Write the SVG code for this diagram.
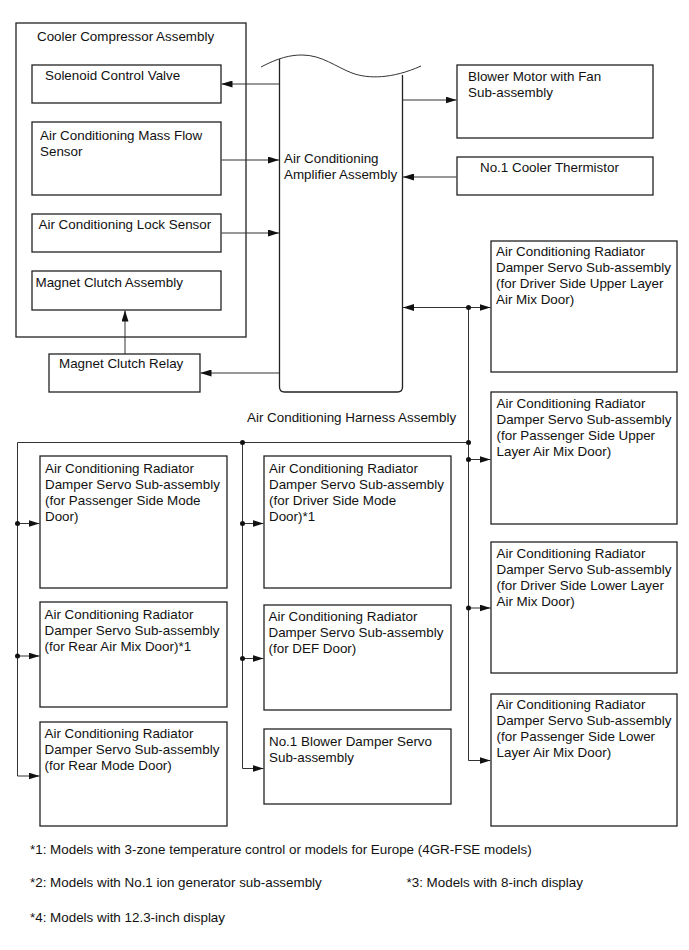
<svg xmlns="http://www.w3.org/2000/svg" width="689" height="950" viewBox="0 0 689 950">
<style>
  text { font-family: "Liberation Sans", Arial, sans-serif; font-size: 13.4px; fill: #111; }
  .box { fill: none; stroke: #222; stroke-width: 1.3; }
  .ln { fill: none; stroke: #333; stroke-width: 1; }
  .arr { fill: none; stroke: #333; stroke-width: 1; marker-end: url(#ah); }
  .dot { fill: #111; }
</style>
<defs>
  <marker id="ah" viewBox="0 0 11 7" refX="11" refY="3.5" markerWidth="11" markerHeight="7" markerUnits="userSpaceOnUse" orient="auto-start-reverse">
    <path d="M0,0 L11,3.5 L0,7 z" fill="#111"/>
  </marker>
</defs>
<rect width="689" height="950" fill="#fff"/>

<g id="cooler-compressor">
  <rect class="box" x="16" y="23" width="230" height="314"/>
  <text x="37" y="41">Cooler Compressor Assembly</text>
</g>
<g id="solenoid">
  <rect class="box" x="32" y="65" width="189" height="38"/>
  <text x="45" y="80">Solenoid Control Valve</text>
</g>
<g id="mass-flow">
  <rect class="box" x="32" y="122" width="189" height="73"/>
  <text x="40" y="139.5">Air Conditioning Mass Flow</text>
  <text x="40" y="155.5">Sensor</text>
</g>
<g id="lock-sensor">
  <rect class="box" x="32" y="214" width="189" height="38"/>
  <text x="38.5" y="229">Air Conditioning Lock Sensor</text>
</g>
<g id="magnet-clutch">
  <rect class="box" x="32" y="271" width="189" height="39"/>
  <text x="35.5" y="286.5">Magnet Clutch Assembly</text>
</g>
<g id="relay">
  <rect class="box" x="49" y="354" width="151" height="38"/>
  <text x="59" y="368">Magnet Clutch Relay</text>
</g>
<g id="amplifier">
  <path class="box" d="M279.5,59 L279.5,387 Q279.5,392 284.5,392 L397.5,392 Q402.5,392 402.5,387 L402.5,75"/>
  <path class="ln" d="M261,67 C278,58 290,55 302,55 C322,55 336,67 352,73 C368,79 392,79 421,66"/>
  <text x="284" y="162.5">Air Conditioning</text>
  <text x="284" y="178.5">Amplifier Assembly</text>
</g>
<g id="blower-motor">
  <rect class="box" x="457" y="65" width="196" height="73"/>
  <text x="468" y="81">Blower Motor with Fan</text>
  <text x="468" y="97">Sub-assembly</text>
</g>
<g id="thermistor">
  <rect class="box" x="457" y="157" width="196" height="38"/>
  <text x="480" y="172">No.1 Cooler Thermistor</text>
</g>
<g id="servo-driver-upper">
  <rect class="box" x="491" y="241" width="186" height="131"/>
  <text x="496" y="255.5">Air Conditioning Radiator</text>
  <text x="496" y="271.5">Damper Servo Sub-assembly</text>
  <text x="496" y="287.5">(for Driver Side Upper Layer</text>
  <text x="496" y="303.5">Air Mix Door)</text>
</g>
<g id="servo-passenger-upper">
  <rect class="box" x="491" y="392" width="186" height="132"/>
  <text x="496.5" y="408">Air Conditioning Radiator</text>
  <text x="496.5" y="424">Damper Servo Sub-assembly</text>
  <text x="496.5" y="440">(for Passenger Side Upper</text>
  <text x="496.5" y="456">Layer Air Mix Door)</text>
</g>
<g id="servo-driver-lower">
  <rect class="box" x="491" y="542" width="186" height="131"/>
  <text x="496.5" y="557.5">Air Conditioning Radiator</text>
  <text x="496.5" y="573.5">Damper Servo Sub-assembly</text>
  <text x="496.5" y="589.5">(for Driver Side Lower Layer</text>
  <text x="496.5" y="605.5">Air Mix Door)</text>
</g>
<g id="servo-passenger-lower">
  <rect class="box" x="491" y="694" width="186" height="132"/>
  <text x="496.5" y="709">Air Conditioning Radiator</text>
  <text x="496.5" y="725">Damper Servo Sub-assembly</text>
  <text x="496.5" y="741">(for Passenger Side Lower</text>
  <text x="496.5" y="757">Layer Air Mix Door)</text>
</g>
<g id="harness-label">
  <text x="247" y="421.5">Air Conditioning Harness Assembly</text>
</g>
<g id="servo-passenger-mode">
  <rect class="box" x="40" y="456" width="187" height="132"/>
  <text x="45" y="472.5">Air Conditioning Radiator</text>
  <text x="45" y="488.5">Damper Servo Sub-assembly</text>
  <text x="45" y="504.5">(for Passenger Side Mode</text>
  <text x="45" y="520.5">Door)</text>
</g>
<g id="servo-rear-airmix">
  <rect class="box" x="40" y="602" width="187" height="105"/>
  <text x="44.5" y="619">Air Conditioning Radiator</text>
  <text x="44.5" y="635">Damper Servo Sub-assembly</text>
  <text x="44.5" y="651">(for Rear Air Mix Door)*1</text>
</g>
<g id="servo-rear-mode">
  <rect class="box" x="40" y="722" width="187" height="104"/>
  <text x="44.5" y="737.5">Air Conditioning Radiator</text>
  <text x="44.5" y="753.5">Damper Servo Sub-assembly</text>
  <text x="44.5" y="769.5">(for Rear Mode Door)</text>
</g>
<g id="servo-driver-mode">
  <rect class="box" x="264" y="456" width="187" height="132"/>
  <text x="269" y="472.5">Air Conditioning Radiator</text>
  <text x="269" y="488.5">Damper Servo Sub-assembly</text>
  <text x="269" y="504.5">(for Driver Side Mode</text>
  <text x="269" y="520.5">Door)*1</text>
</g>
<g id="servo-def">
  <rect class="box" x="264" y="605" width="187" height="105"/>
  <text x="268.5" y="620.5">Air Conditioning Radiator</text>
  <text x="268.5" y="636.5">Damper Servo Sub-assembly</text>
  <text x="268.5" y="652.5">(for DEF Door)</text>
</g>
<g id="blower-damper-servo">
  <rect class="box" x="264" y="729" width="187" height="75"/>
  <text x="269" y="746">No.1 Blower Damper Servo</text>
  <text x="269" y="762">Sub-assembly</text>
</g>

<g id="connectors">
  <line class="arr" x1="279" y1="84" x2="221.5" y2="84"/>
  <line class="arr" x1="221.5" y1="160" x2="279" y2="160"/>
  <line class="arr" x1="221.5" y1="233" x2="279" y2="233"/>
  <line class="arr" x1="279" y1="373" x2="200.5" y2="373"/>
  <line class="arr" x1="125" y1="354" x2="125" y2="310.5"/>
  <line class="arr" x1="403" y1="100" x2="456.5" y2="100"/>
  <line class="arr" x1="456.5" y1="177" x2="403" y2="177"/>
  <line class="arr" x1="403" y1="307.5" x2="490.5" y2="307.5" style="marker-start:url(#ah)"/>
  <polyline class="ln" points="468.5,307.5 468.5,760.5 490.5,760.5" style="marker-end:url(#ah)"/>
  <line class="arr" x1="468.5" y1="459.5" x2="490.5" y2="459.5"/>
  <line class="arr" x1="468.5" y1="608" x2="490.5" y2="608"/>
  <line class="ln" x1="17.5" y1="442.5" x2="468.5" y2="442.5"/>
  <polyline class="ln" points="17.5,442.5 17.5,776 39.5,776" style="marker-end:url(#ah)"/>
  <line class="arr" x1="17.5" y1="523.5" x2="39.5" y2="523.5"/>
  <line class="arr" x1="17.5" y1="656" x2="39.5" y2="656"/>
  <polyline class="ln" points="242.5,442.5 242.5,768.5 263.5,768.5" style="marker-end:url(#ah)"/>
  <line class="arr" x1="242.5" y1="523.5" x2="263.5" y2="523.5"/>
  <line class="arr" x1="242.5" y1="658.5" x2="263.5" y2="658.5"/>
  <circle class="dot" cx="468.5" cy="307.5" r="2.5"/>
  <circle class="dot" cx="468.5" cy="442.5" r="2.5"/>
  <circle class="dot" cx="468.5" cy="459.5" r="2.5"/>
  <circle class="dot" cx="468.5" cy="608" r="2.5"/>
  <circle class="dot" cx="242.5" cy="442.5" r="2.5"/>
  <circle class="dot" cx="242.5" cy="523.5" r="2.5"/>
  <circle class="dot" cx="242.5" cy="658.5" r="2.5"/>
  <circle class="dot" cx="17.5" cy="523.5" r="2.5"/>
  <circle class="dot" cx="17.5" cy="656" r="2.5"/>
</g>

<g id="footnotes">
  <text x="30" y="854">*1: Models with 3-zone temperature control or models for Europe (4GR-FSE models)</text>
  <text x="30" y="887">*2: Models with No.1 ion generator sub-assembly</text>
  <text x="406.5" y="887">*3: Models with 8-inch display</text>
  <text x="30" y="921.5">*4: Models with 12.3-inch display</text>
</g>
</svg>
